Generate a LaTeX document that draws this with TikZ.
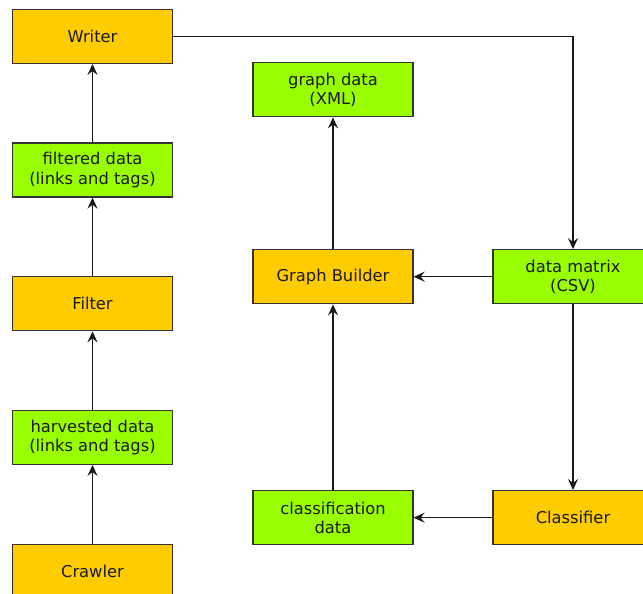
\documentclass[tikz,border=0pt]{standalone}
\usepackage{fontspec}
\newfontfamily\dejavu{DejaVu Sans}
\usetikzlibrary{arrows.meta}
\definecolor{boxorange}{HTML}{FFCC00}
\definecolor{boxgreen}{HTML}{99FF00}
\definecolor{edgegray}{HTML}{333333}
\definecolor{txt}{HTML}{1A1A1A}
\tikzset{
  procbox/.style={draw=edgegray, line width=1.3pt, fill=boxorange, minimum width=160pt, minimum height=54pt, inner sep=0pt, align=center, text=txt, font=\dejavu\fontsize{16.3}{19.5}\selectfont},
  databox/.style={procbox, fill=boxgreen},
  flow/.style={draw=black!90, line width=1.4pt, -{Stealth[length=11pt,width=10pt,inset=4pt]}},
}
\begin{document}
\begin{tikzpicture}[x=1pt,y=-1pt]
\useasboundingbox (0,0) rectangle (643,594);
\begin{scope}
\clip (0,0) rectangle (643,594);
\node[procbox] (writer) at (92.5,36.3) {Writer};
\node[databox] (filtered) at (92.5,170) {filtered data\\(links and tags)};
\node[procbox] (filter) at (92.5,303.7) {Filter};
\node[databox] (harvested) at (92.5,437.3) {harvested data\\(links and tags)};
\node[procbox] (crawler) at (92.5,571.3) {Crawler};
\node[databox] (graphdata) at (333,89.7) {graph data\\(XML)};
\node[procbox] (builder) at (333,276.7) {Graph Builder};
\node[databox] (matrix) at (573,276.7) {data matrix\\(CSV)};
\node[databox] (classdata) at (333,517.7) {classification\\data};
\node[procbox] (classifier) at (573,517.7) {Classifier};
\coordinate (corner) at (573,36.3);

\draw[flow] (crawler) -- (harvested);
\draw[flow] (harvested) -- (filter);
\draw[flow] (filter) -- (filtered);
\draw[flow] (filtered) -- (writer);
\draw[flow] (writer.east) -- (corner) -- (matrix.north);
\draw[flow] (matrix) -- (builder);
\draw[flow] (matrix) -- (classifier);
\draw[flow] (classifier) -- (classdata);
\draw[flow] (classdata) -- (builder);
\draw[flow] (builder) -- (graphdata);
\end{scope}
\end{tikzpicture}
\end{document}
